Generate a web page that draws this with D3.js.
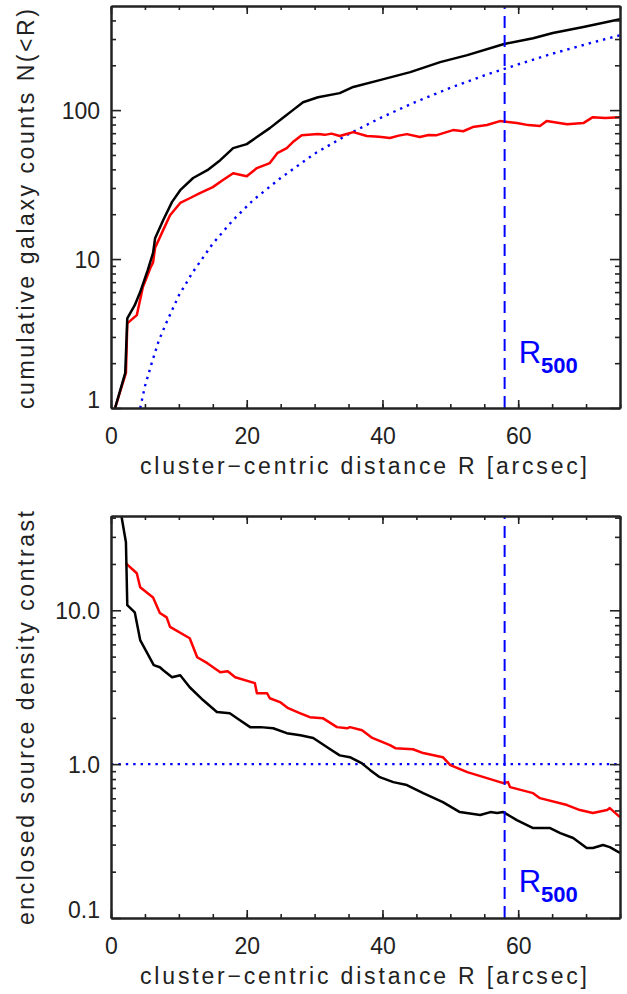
<!DOCTYPE html>
<html>
<head>
<meta charset="utf-8">
<script src="https://cdn.jsdelivr.net/npm/d3@7"></script>
<style>
  body { margin: 0; background: #fff; }
  text { font-family: "Liberation Sans", Arial, sans-serif; fill: #222; }
</style>
</head>
<body>
<svg id="chart" width="627" height="994"></svg>
<script>
// ---- data ----
var r500 = 58

// top panel: cumulative counts
var topBlackR = [0.6, 2.1, 2.4, 3.5, 4.3, 5.4, 6.2, 6.5, 7.7, 9.0, 10.2, 12.1, 14.2, 16.1, 18.0, 20.0, 21.5, 23.4, 25.3, 26.8, 28.3, 30.5, 33.7, 35.7, 39.6, 44.1, 48.5, 52.5, 57.8, 62.2, 65.1, 69.6, 75]
var topBlackN = [1.0, 1.72, 4.0, 4.9, 6.0, 8.4, 11.0, 13.8, 18.3, 24.2, 29.0, 35.0, 39.5, 46.1, 55.6, 59.1, 65.9, 75.7, 88.4, 100, 113, 122, 130, 143, 159, 180, 210, 234, 277, 304, 329, 361, 408]

var topRedR = [0.6, 2.2, 2.4, 3.8, 4.7, 5.8, 6.2, 6.5, 7.7, 8.7, 10.2, 11.6, 13.1, 15.0, 16.5, 18.0, 20.0, 21.5, 23.4, 24.5, 25.9, 26.8, 28.1, 30.5, 31.5, 32.5, 33.7, 34.6, 35.7, 37.7, 39.5, 41.1, 42.4, 43.6, 45.5, 46.8, 48.0, 50.4, 51.9, 53.3, 55.4, 57.3, 59.8, 61.5, 63.2, 64.2, 67.2, 69.6, 71.0, 72.8, 75]
var topRedN = [1.0, 1.72, 3.7, 4.2, 6.5, 8.7, 9.5, 11.9, 15.7, 19.7, 23.8, 25.6, 27.7, 30.4, 33.9, 37.7, 36.0, 40.8, 44.1, 51.4, 55.6, 61.0, 67.9, 69.0, 68.2, 69.5, 67.0, 68.8, 71.1, 67.0, 66.2, 64.9, 67.4, 69.0, 65.9, 68.0, 67.9, 73.4, 72.1, 76.9, 79.5, 84.4, 81.8, 79.3, 78.1, 84.4, 80.5, 81.8, 89.7, 88.6, 89.7]

var topBgR = [4.3, 5, 6, 7, 8, 10, 12, 15, 18, 21, 25, 30, 35, 40, 45, 50, 55, 60, 65, 70, 75]
var topBgN = [1.0, 1.4, 2.0, 2.8, 3.6, 5.7, 8.1, 12.7, 18.3, 25, 35, 51, 69, 90, 114, 141, 171, 203, 239, 277, 318]

// bottom panel: enclosed density contrast
var botBlackR = [1.2, 2.2, 2.4, 3.5, 4.3, 5.3, 6.3, 7.2, 7.7, 9.0, 10.2, 11.6, 13.6, 15.6, 17.5, 19.0, 20.5, 22.0, 23.9, 25.9, 27.9, 29.8, 32.3, 33.7, 35.2, 37.0, 38.2, 39.6, 41.6, 43.6, 46.0, 48.9, 51.4, 54.4, 55.9, 56.9, 57.8, 59.8, 62.2, 64.7, 66.2, 68.1, 70.1, 71.0, 72.5, 73.5, 75]
var botBlackC = [50, 27.7, 10.8, 9.7, 6.4, 5.3, 4.4, 4.26, 4.08, 3.67, 3.78, 3.16, 2.60, 2.18, 2.14, 1.93, 1.74, 1.74, 1.71, 1.59, 1.54, 1.48, 1.25, 1.14, 1.11, 1.01, 0.914, 0.823, 0.764, 0.731, 0.648, 0.567, 0.488, 0.467, 0.488, 0.481, 0.488, 0.433, 0.384, 0.384, 0.356, 0.331, 0.285, 0.285, 0.298, 0.289, 0.265]

var botRedR = [2.2, 3.8, 4.3, 6.2, 7.2, 8.2, 8.7, 11.6, 12.7, 14.2, 16.1, 17.2, 18.3, 21.2, 21.5, 23.0, 23.4, 24.9, 26.1, 27.9, 29.3, 31.2, 33.3, 34.8, 35.2, 37.0, 38.5, 41.1, 41.9, 44.5, 46.0, 48.9, 50.0, 52.5, 55.4, 57.8, 58.5, 58.8, 62.2, 63.2, 67.2, 69.1, 71.0, 73.1, 73.5, 75]
var botRedC = [20.2, 17.4, 14.1, 12.1, 9.6, 9.0, 7.8, 6.58, 4.95, 4.53, 3.96, 4.02, 3.67, 3.36, 2.89, 2.89, 2.68, 2.53, 2.31, 2.14, 2.02, 1.99, 1.74, 1.71, 1.74, 1.66, 1.48, 1.33, 1.27, 1.25, 1.18, 1.11, 0.985, 0.887, 0.811, 0.753, 0.764, 0.709, 0.648, 0.601, 0.542, 0.503, 0.481, 0.503, 0.518, 0.453]

var xTicks = [0, 20, 40, 60]
var xMinor = d3.range(0, 76, 5)
var topTicks = [1, 10, 100]
var botTicks = [0.1, 1, 10]

// ---- layout ----
var svg = d3.select("#chart")
var left = 111, right = 620

var x = d3.scaleLinear().domain([0, 75]).range([left, right])

function minorLog(lo, hi) {
    var out = []
    for (var e = Math.floor(Math.log10(lo)); e <= Math.ceil(Math.log10(hi)); e++) {
        for (var k = 2; k <= 9; k++) {
            var v = k * Math.pow(10, e)
            if (v > lo && v < hi) out.push(v)
        }
    }
    return out
}

function panel(cfg) {
    var y = d3.scaleLog().domain(cfg.domain).range([cfg.bottom, cfg.top])
    var h = cfg.bottom - cfg.top
    var g = svg.append("g")

    var clipId = "clip" + cfg.id
    svg.append("clipPath").attr("id", clipId)
        .append("rect").attr("x", left).attr("y", cfg.top)
        .attr("width", right - left).attr("height", h)

    var plot = g.append("g").attr("clip-path", "url(#" + clipId + ")")
    var line = d3.line().x(function(d) { return x(d[0]) }).y(function(d) { return y(d[1]) })

    cfg.series.forEach(function(s) {
        plot.append("path")
            .datum(d3.zip(s.r, s.v))
            .attr("d", line)
            .attr("fill", "none")
            .attr("stroke", s.color)
            .attr("stroke-width", s.width || 2.5)
            .attr("stroke-dasharray", s.dash || null)
            .attr("stroke-linejoin", "round")
    })

    // R500 marker
    plot.append("path")
        .datum([[r500, cfg.domain[0]], [r500, cfg.domain[1]]])
        .attr("d", line)
        .attr("stroke", "#0000ff").attr("stroke-width", 2)
        .attr("stroke-dasharray", "12,7")

    // axes
    var ax = g.append("g").attr("class", "axes")
    ax.append("g").attr("transform", "translate(0," + cfg.bottom + ")")
        .call(d3.axisBottom(x).tickValues(xTicks).tickSize(-8).tickSizeOuter(0).tickPadding(20))
    ax.append("g").attr("transform", "translate(0," + cfg.bottom + ")")
        .call(d3.axisBottom(x).tickValues(xMinor).tickSize(-4).tickSizeOuter(0).tickFormat(""))
    ax.append("g").attr("transform", "translate(0," + cfg.top + ")")
        .call(d3.axisTop(x).tickValues(xTicks).tickSize(-8).tickSizeOuter(0).tickFormat(""))
    ax.append("g").attr("transform", "translate(0," + cfg.top + ")")
        .call(d3.axisTop(x).tickValues(xMinor).tickSize(-4).tickSizeOuter(0).tickFormat(""))

    var yl = ax.append("g").attr("transform", "translate(" + left + ",0)")
        .call(d3.axisLeft(y).tickValues(cfg.ticks).tickSize(-10).tickSizeOuter(0).tickPadding(11).tickFormat(cfg.fmt))
    yl.selectAll("text").attr("dy", function(d) { return y(d) + 8 > cfg.bottom ? "0em" : "0.35em" })
        .attr("y", function(d) { return y(d) + 8 > cfg.bottom ? -0.5 : 0 })
    ax.append("g").attr("transform", "translate(" + left + ",0)")
        .call(d3.axisLeft(y).tickValues(minorLog(cfg.domain[0], cfg.domain[1])).tickSize(-5).tickSizeOuter(0).tickFormat(""))
    ax.append("g").attr("transform", "translate(" + right + ",0)")
        .call(d3.axisRight(y).tickValues(cfg.ticks).tickSize(-10).tickSizeOuter(0).tickFormat(""))
    ax.append("g").attr("transform", "translate(" + right + ",0)")
        .call(d3.axisRight(y).tickValues(minorLog(cfg.domain[0], cfg.domain[1])).tickSize(-5).tickSizeOuter(0).tickFormat(""))

    ax.selectAll("path.domain").attr("stroke", "#222").attr("stroke-width", 2)
    ax.selectAll(".tick line").attr("stroke", "#222").attr("stroke-width", 1.6)
    ax.selectAll(".tick text").style("font-size", "23px")
        .style("font-family", '"Liberation Sans", Arial, sans-serif').attr("fill", "#222")

    // axis titles
    g.append("text")
        .attr("x", (left + right) / 2 - 2).attr("y", cfg.bottom + 66)
        .attr("text-anchor", "middle")
        .attr("textLength", 447).attr("lengthAdjust", "spacing")
        .style("font-size", "23px")
        .text("cluster\u2212centric distance R [arcsec]")
    g.append("text")
        .attr("transform", "translate(34," + cfg.yMid + ") rotate(-90)")
        .attr("text-anchor", "middle")
        .attr("textLength", cfg.yLen).attr("lengthAdjust", "spacing")
        .style("font-size", "23px")
        .text(cfg.ylabel)

    // R500 label
    var lab = g.append("text")
        .attr("x", x(r500) + 14).attr("y", cfg.labelY)
        .style("fill", "#0000ff")
    lab.append("tspan").style("font-size", "31px").text("R")
    lab.append("tspan").attr("dy", 10).style("font-size", "22px").style("font-weight", "bold").text("500")
}

panel({
    id: 1, top: 6, bottom: 408, domain: [1, 500], ticks: topTicks,
    fmt: d3.format("d"),
    ylabel: "cumulative galaxy counts N(<R)", yMid: 209, yLen: 400, labelY: 363,
    series: [
        { r: topBgR, v: topBgN, color: "#0000ff", width: 2.4, dash: "2.4,5" },
        { r: topRedR, v: topRedN, color: "#ff0000" },
        { r: topBlackR, v: topBlackN, color: "#000000" }
    ]
})

panel({
    id: 2, top: 516, bottom: 918, domain: [0.1, 41], ticks: botTicks,
    fmt: d3.format(".1f"),
    ylabel: "enclosed source density contrast", yMid: 718, yLen: 414, labelY: 892,
    series: [
        { r: [0, 75], v: [1, 1], color: "#0000ff", width: 2.4, dash: "2.4,5" },
        { r: botRedR, v: botRedC, color: "#ff0000" },
        { r: botBlackR, v: botBlackC, color: "#000000" }
    ]
})
</script>
</body>
</html>
